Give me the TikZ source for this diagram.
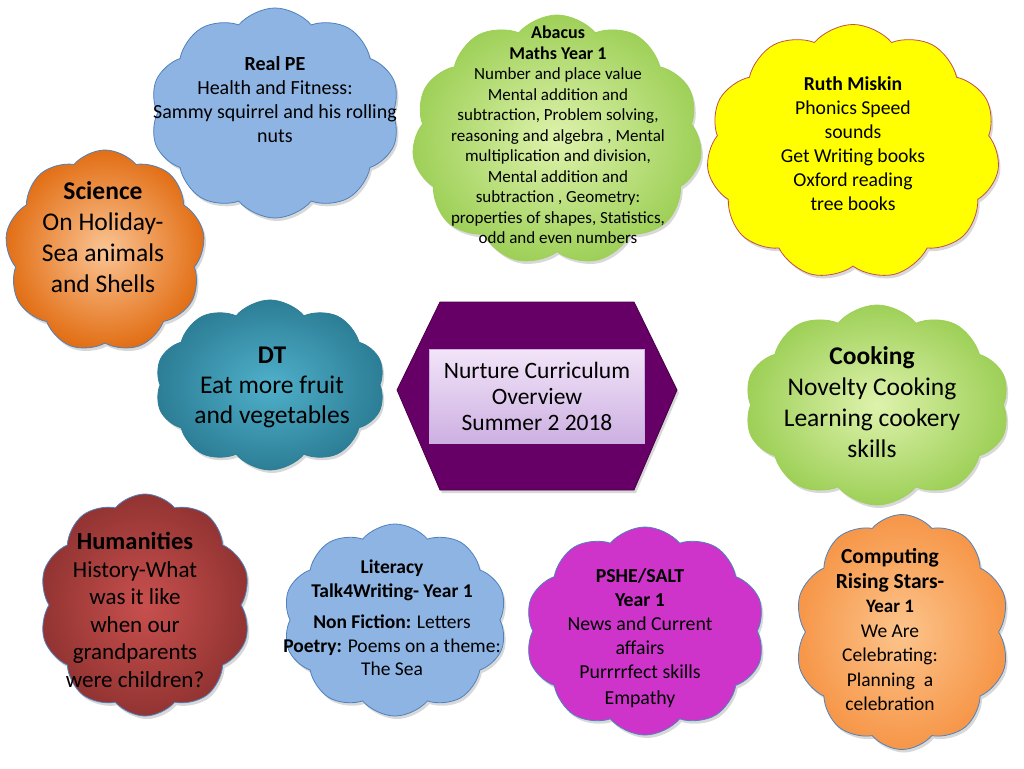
\documentclass[tikz,border=0pt]{standalone}
\usepackage{fontspec}
\setmainfont{Carlito}
\usetikzlibrary{shapes.symbols,shadows}
\newcommand\sizeto[2]{\fontsize{#1}{#2}\selectfont}
\definecolor{peblue}{RGB}{142,180,227}
\definecolor{peedge}{RGB}{79,129,189}
\definecolor{limelight}{RGB}{222,242,172}
\definecolor{limedark}{RGB}{158,208,88}
\definecolor{sunyellow}{RGB}{255,255,0}
\definecolor{sunedge}{RGB}{192,80,77}
\definecolor{orangelight}{RGB}{250,196,148}
\definecolor{orangedark}{RGB}{226,110,20}
\definecolor{teallight}{RGB}{80,176,202}
\definecolor{tealdark}{RGB}{44,126,150}
\definecolor{redlight}{RGB}{200,80,78}
\definecolor{reddark}{RGB}{146,52,50}
\definecolor{pshemagenta}{RGB}{206,52,202}
\definecolor{compulight}{RGB}{252,196,140}
\definecolor{compudark}{RGB}{246,150,72}
\definecolor{hexpurple}{RGB}{102,0,102}
\definecolor{panellight}{RGB}{242,228,248}
\definecolor{paneldark}{RGB}{205,176,226}
\tikzset{%
  bubble/.style={cloud, cloud puffs=#1, cloud puff arc=100, cloud ignores aspect,
    inner sep=0pt, line width=0.8pt, draw=peedge,
    drop shadow={opacity=0.3, shadow xshift=2pt, shadow yshift=-3pt}},
  bubble/.default=10,
  topic/.style={align=center, inner sep=0pt, text=black},
}

\begin{document}
\begin{tikzpicture}[x=1pt,y=-1pt]

\useasboundingbox[fill=white] (0,0) rectangle (1024,768);

%% clouds

\node[bubble, fill=peblue, minimum width=250pt, minimum height=210pt]
  (pe) at (275,113) {};
\node[bubble=11, inner color=limelight, outer color=limedark, draw=limedark,
  minimum width=290pt, minimum height=250pt] (maths) at (557,140) {};
\node[bubble=11, fill=sunyellow, draw=sunedge, minimum width=293pt,
  minimum height=255pt] (phonics) at (853,152) {};
\node[bubble=9, inner color=orangelight, outer color=orangedark,
  minimum width=200pt, minimum height=202pt] (science) at (105,251) {};
\node[bubble, inner color=teallight, outer color=tealdark, draw=tealdark,
  minimum width=230pt, minimum height=170pt] (dt) at (270,385) {};
\node[bubble, inner color=limelight, outer color=limedark, draw=limedark,
  minimum width=265pt, minimum height=200pt] (cooking) at (877,405) {};
\node[bubble, inner color=redlight, outer color=reddark,
  minimum width=212pt, minimum height=222pt] (humanities) at (145,605) {};
\node[bubble, fill=peblue, minimum width=224pt, minimum height=192pt]
  (literacy) at (395,620) {};
\node[bubble, fill=pshemagenta, minimum width=240pt, minimum height=208pt]
  (pshe) at (645,631) {};
\node[bubble, inner color=compulight, outer color=compudark,
  minimum width=215pt, minimum height=235pt] (computing) at (902,632) {};

%% centre panel

\draw[fill=hexpurple, draw=hexpurple!70!black, line width=0.8pt,
  drop shadow={opacity=0.3, shadow xshift=2pt, shadow yshift=-3pt}]
  (397,390) -- (440,302) -- (634,302) -- (677,390) -- (634,490) -- (440,490)
  -- cycle;
\node[topic, top color=panellight, bottom color=paneldark, draw=paneldark,
  minimum width=215pt, minimum height=94pt, font=\sizeto{23.5}{26}]
  (overview) at (537,396)
  {Nurture Curriculum\\Overview\\Summer 2 2018};

%% texts

\node[topic, font=\sizeto{20}{24}] (pe-text) at (275,100)
  {\textbf{Real PE}\\Health and Fitness:\\Sammy squirrel and his rolling\\nuts};
\node[topic, font=\sizeto{17}{20.5}] (maths-text) at (558,135)
  {{\sizeto{18}{23}\textbf{Abacus}}\\{\sizeto{18}{23}\textbf{Maths Year 1}}\\
   Number and place value\\Mental addition and\\subtraction, Problem solving,\\
   reasoning and algebra , Mental\\multiplication and division,\\
   Mental addition and\\subtraction , Geometry:\\
   properties of shapes, Statistics,\\odd and even numbers};
\node[topic, font=\sizeto{19.7}{24}] (phonics-text) at (853,144)
  {\textbf{Ruth Miskin}\\Phonics Speed\\sounds\\Get Writing books\\
   Oxford reading\\tree books};
\node[topic, font=\sizeto{25.5}{31}] (science-text) at (103,237)
  {\textbf{Science}\\On Holiday-\\Sea animals\\and Shells};
\node[topic, font=\sizeto{25.5}{30}] (dt-text) at (272,387)
  {\textbf{DT}\\Eat more fruit\\and vegetables};
\node[topic, font=\sizeto{25.5}{31}] (cooking-text) at (872,402)
  {\textbf{Cooking}\\Novelty Cooking\\Learning cookery\\skills};
\node[topic, font=\sizeto{23}{27.5}] (humanities-text) at (135,610)
  {{\sizeto{24.5}{27.5}\textbf{Humanities}}\\History-What\\was it like\\when our\\
   grandparents\\were children?};
\node[topic, font=\sizeto{19.5}{23.5}] (literacy-text) at (392,618)
  {\textbf{Literacy}\\\textbf{Talk4Writing- Year 1}\\[8pt]
   \textbf{Non Fiction:} Letters\\\textbf{Poetry:} Poems on a theme:\\The Sea};
\node[topic, font=\sizeto{19.8}{24}] (pshe-text) at (640,638)
  {\textbf{PSHE/SALT}\\\textbf{Year 1}\\News and Current\\affairs\\
   Purrrrfect skills\\[2pt]Empathy};
\node[topic, font=\sizeto{19.5}{24.5}] (computing-text) at (890,630)
  {{\sizeto{21.5}{26}\textbf{Computing}}\\{\sizeto{21.5}{26}\textbf{Rising Stars-}}\\
   {\sizeto{19}{24.5}\textbf{Year 1}}\\We Are\\Celebrating:\\Planning~ a\\celebration};

\end{tikzpicture}
\end{document}
